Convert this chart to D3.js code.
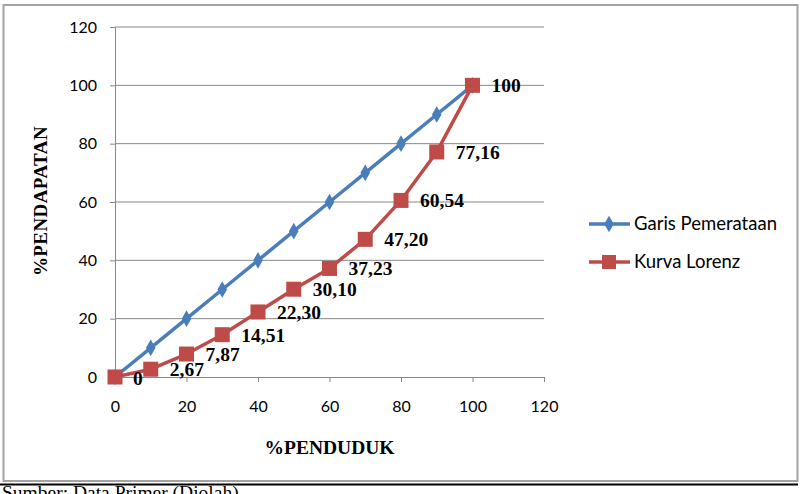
<!DOCTYPE html>
<html><head><meta charset="utf-8">
<script src="https://cdn.jsdelivr.net/npm/d3@7"></script>
<style>body{margin:0;background:#fff;overflow:hidden}</style>
</head><body>
<svg id="c" width="802" height="494"></svg>
<script>
const penduduk = [0,10,20,30,40,50,60,70,80,90,100];
const garisPemerataan = [0,10,20,30,40,50,60,70,80,90,100];
const kurvaLorenz = [0,2.67,7.87,14.51,22.30,30.10,37.23,47.20,60.54,77.16,100];
const lorenzLabels = ["0","2,67","7,87","14,51","22,30","30,10","37,23","47,20","60,54","77,16","100"];
const xTicks = [0,20,40,60,80,100,120];
const yTicks = [0,20,40,60,80,100,120];
const seriesNames = ["Garis Pemerataan","Kurva Lorenz"];

const svg = d3.select("#c");
const blue = "#4A7EBB", red = "#BE4B48", grid = "#878787";
const sans = "Lato, 'Open Sans', sans-serif";
const serif = "'Liberation Serif', 'Times New Roman', serif";

// outer frame
svg.append("rect").attr("x",3.5).attr("y",5).attr("width",794).attr("height",476)
  .attr("fill","#fff").attr("stroke","#a3a3a3").attr("stroke-width",2);
svg.append("line").attr("x1",0).attr("x2",798).attr("y1",484.5).attr("y2",484.5)
  .attr("stroke","#000").attr("stroke-width",2);
svg.append("text").attr("x",2).attr("y",499).attr("font-family",serif).attr("font-size",19.5)
  .text("Sumber: Data Primer (Diolah)");

const x = d3.scaleLinear().domain([0,120]).range([115,544]);
const y = d3.scaleLinear().domain([0,120]).range([377,27]);

// gridlines
svg.append("g").selectAll("line").data(yTicks.filter(d=>d>0)).join("line")
  .attr("x1",x(0)).attr("x2",x(120)).attr("y1",d=>y(d)).attr("y2",d=>y(d))
  .attr("stroke",grid).attr("stroke-width",1);

// axes
const yAxis = svg.append("g").attr("transform",`translate(${x(0)},0)`)
  .call(d3.axisLeft(y).tickValues(yTicks).tickSize(5).tickPadding(13));
const xAxis = svg.append("g").attr("transform",`translate(0,${y(0)})`)
  .call(d3.axisBottom(x).tickValues(xTicks).tickSize(5).tickPadding(19));
[yAxis,xAxis].forEach(a=>{
  a.select(".domain").attr("stroke",grid);
  a.selectAll(".tick line").attr("stroke",grid);
  a.selectAll("text").attr("font-family",sans).attr("font-size",16).attr("fill","#000");
});

// axis titles
svg.append("text").attr("x",x(60)).attr("y",454).attr("text-anchor","middle")
  .attr("font-family",serif).attr("font-weight","bold").attr("font-size",19.5).text("%PENDUDUK");
svg.append("text").attr("transform","translate(47,201) rotate(-90)").attr("text-anchor","middle")
  .attr("font-family",serif).attr("font-weight","bold").attr("font-size",19)
  .attr("letter-spacing",0.4).text("%PENDAPATAN");

const line = d3.line();
const ptsG = penduduk.map((p,i)=>[x(p),y(garisPemerataan[i])]);
const ptsL = penduduk.map((p,i)=>[x(p),y(kurvaLorenz[i])]);

svg.append("path").attr("d",line(ptsG)).attr("fill","none").attr("stroke",blue)
  .attr("stroke-width",3.5).attr("stroke-linejoin","round");
svg.append("g").selectAll("path").data(ptsG).join("path")
  .attr("d",d3.symbol(d3.symbolDiamond,80)())
  .attr("transform",d=>`translate(${d[0]},${d[1]})`).attr("fill",blue);

svg.append("path").attr("d",line(ptsL)).attr("fill","none").attr("stroke",red)
  .attr("stroke-width",3.5).attr("stroke-linejoin","round");
svg.append("g").selectAll("rect").data(ptsL).join("rect")
  .attr("x",d=>d[0]-7.5).attr("y",d=>d[1]-7.5).attr("width",15).attr("height",15).attr("fill",red);

svg.append("g").selectAll("text").data(ptsL).join("text")
  .attr("x",(d,i)=>d[0]+(i===0?18:19)).attr("y",(d,i)=>d[1]+(i===0?8:7))
  .attr("font-family",serif).attr("font-weight","bold").attr("font-size",19.5)
  .text((d,i)=>lorenzLabels[i]);

// legend
const leg = svg.append("g");
const ly = [224,262];
[blue,red].forEach((c,i)=>{
  leg.append("line").attr("x1",589).attr("x2",630).attr("y1",ly[i]).attr("y2",ly[i])
    .attr("stroke",c).attr("stroke-width",3.5);
  if(i===0) leg.append("path").attr("d",d3.symbol(d3.symbolDiamond,80)())
    .attr("transform",`translate(609,${ly[i]})`).attr("fill",c);
  else leg.append("rect").attr("x",602).attr("y",ly[i]-7).attr("width",14).attr("height",14).attr("fill",c);
  leg.append("text").attr("x",634).attr("y",ly[i]+6).attr("font-family",sans).attr("font-size",18.5)
    .text(seriesNames[i]);
});
</script>
</body></html>
